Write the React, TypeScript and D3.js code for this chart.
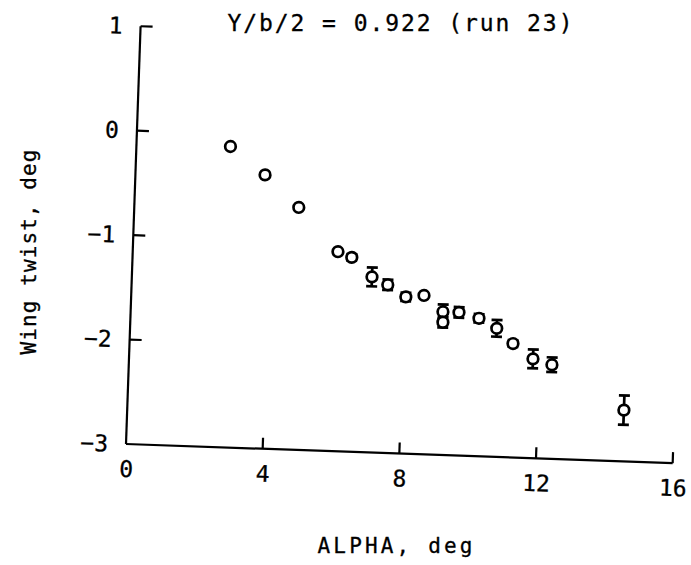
import React from "react";
import * as d3 from "d3";

const alpha = [2.75, 3.79, 4.81, 6.0, 6.41, 7.02, 7.49, 8.03, 8.56, 9.13, 9.14, 9.6, 10.19, 10.72, 11.21, 11.81, 12.37, 14.52];
const twist = [-0.12, -0.38, -0.68, -1.09, -1.14, -1.32, -1.39, -1.5, -1.48, -1.63, -1.73, -1.63, -1.68, -1.77, -1.91, -2.05, -2.1, -2.51];
const errs = [0, 0, 0, 0, 0.03, 0.09, 0.05, 0.04, 0, 0.07, 0.05, 0.05, 0.04, 0.08, 0.03, 0.09, 0.07, 0.14];
const xTicks = [0, 4, 8, 12, 16];
const yTicks = [-3, -2, -1, 0, 1];
const title = "Y/b/2 = 0.922 (run 23)";
const xLabel = "ALPHA,  deg";
const yLabel = "Wing twist,  deg";

const W = 691;
const H = 565;
const X0 = 126;
const X1 = 673;
const Y0 = 444;
const Y1 = 26;
const ROT = 2;
const FONT = "'DejaVu Sans Mono', 'Liberation Mono', monospace";

export default function App() {
  const x = d3.scaleLinear().domain([0, 16]).range([X0, X1]);
  const y = d3.scaleLinear().domain([-3, 1]).range([Y0, Y1]);
  const r = 5.3;
  const cap = 5.5;
  return (
    <svg width={W} height={H} style={{ position: "absolute", left: 0, top: 0, background: "#fff" }}>
      <rect x={0} y={0} width={W} height={H} fill="#fff" />
      <g transform={`rotate(${ROT}, ${X0}, ${Y0})`} stroke="#000" fill="none">
        <line x1={x(0)} x2={x(16)} y1={y(-3)} y2={y(-3)} strokeWidth={2.2} />
        <line x1={x(0)} x2={x(0)} y1={y(-3)} y2={y(1)} strokeWidth={2.2} />
        {yTicks.filter((t) => t > -3).map((t) => (
          <line key={"yt" + t} x1={x(0)} x2={x(0) + 12} y1={y(t)} y2={y(t)} strokeWidth={2.2} />
        ))}
        {xTicks.filter((t) => t > 0).map((t) => (
          <line key={"xt" + t} x1={x(t)} x2={x(t)} y1={y(-3)} y2={y(-3) - 11} strokeWidth={2.2} />
        ))}
        {yTicks.map((t) => (
          <text key={"yl" + t} x={x(0) - 18} y={y(t) + 8} textAnchor="end" fontFamily={FONT} fontSize={23} fill="#000" stroke="#000" strokeWidth={0.3}>
            {t < 0 ? "\u2212" + Math.abs(t) : String(t)}
          </text>
        ))}
        {xTicks.map((t) => (
          <text key={"xl" + t} x={x(t) + 1} y={y(-3) + 33} textAnchor="middle" fontFamily={FONT} fontSize={23} fill="#000" stroke="#000" strokeWidth={0.3}>
            {t}
          </text>
        ))}
        {alpha.map((a, i) => {
          const cx = x(a);
          const cy = y(twist[i]);
          const e = errs[i];
          return (
            <g key={"p" + i} strokeWidth={2.7}>
              {e > 0 && (
                <g>
                  <line x1={cx} x2={cx} y1={y(twist[i] + e)} y2={y(twist[i] - e)} />
                  <line x1={cx - cap} x2={cx + cap} y1={y(twist[i] + e)} y2={y(twist[i] + e)} />
                  <line x1={cx - cap} x2={cx + cap} y1={y(twist[i] - e)} y2={y(twist[i] - e)} />
                </g>
              )}
              <circle cx={cx} cy={cy} r={r} fill="#fff" />
            </g>
          );
        })}
      </g>
      <text x={400} y={31} textAnchor="middle" fontFamily={FONT} fontSize={23} textLength={345} lengthAdjust="spacing" stroke="#000" strokeWidth={0.3}>
        {title}
      </text>
      <text x={395} y={553} textAnchor="middle" fontFamily={FONT} fontSize={21} textLength={155} lengthAdjust="spacing" stroke="#000" strokeWidth={0.3}>
        {xLabel}
      </text>
      <text transform="translate(36, 252) rotate(-90)" textAnchor="middle" fontFamily={FONT} fontSize={21} textLength={205} lengthAdjust="spacing" stroke="#000" strokeWidth={0.3}>
        {yLabel}
      </text>
    </svg>
  );
}
